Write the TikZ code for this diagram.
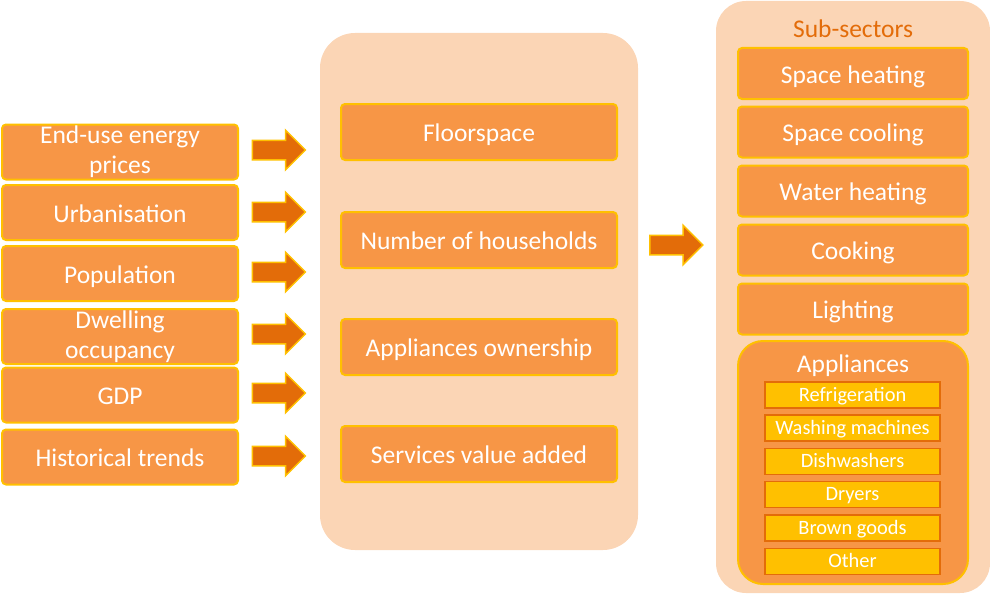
\documentclass[tikz,border=0pt]{standalone}
\usepackage{fontspec}
\setmainfont{Carlito}
\usetikzlibrary{shapes.arrows}
\definecolor{panel}{HTML}{FBD5B5}
\definecolor{boxfill}{HTML}{F79646}
\definecolor{gold}{HTML}{FFC000}
\definecolor{darkor}{HTML}{E36C09}
\begin{document}
\begin{tikzpicture}[x=1pt,y=-1pt,
  panelbox/.style={fill=panel, draw=none, inner sep=0pt},
  box/.style={draw=gold, fill=boxfill, line width=2pt, rounded corners=4pt, text=white,
    font=\fontsize{25.5}{30}\selectfont, align=center, inner sep=0pt},
  oneline/.style={text height=19.4pt, text depth=0pt},
  smallline/.style={text height=12.5pt, text depth=0.5pt},
  leftbox/.style={box, minimum width=236pt, minimum height=55pt},
  midbox/.style={box, oneline, minimum width=276pt, minimum height=56pt},
  subbox/.style={box, oneline, minimum width=230pt, minimum height=51pt},
  appbox/.style={draw=darkor, fill=gold, line width=1.5pt, text=white, smallline,
    font=\fontsize{20.4}{24}\selectfont, inner sep=0pt, minimum width=175pt, minimum height=26pt},
  blockarrow/.style={single arrow, draw=gold, fill=darkor, line width=1.5pt,
    minimum height=53pt, minimum width=38pt, single arrow head extend=10pt,
    inner sep=9pt, anchor=center}
]
\useasboundingbox (0,0) rectangle (990,594);
% panels
\node[panelbox, rounded corners=35pt, minimum width=318pt, minimum height=517pt] (mid) at (479,291.5) {};
\node[panelbox, rounded corners=30pt, minimum width=274pt, minimum height=592pt] (right) at (853,297) {};
% left boxes
\node[leftbox, yshift=-2pt] (l1) at (120,150) {End-use energy\\prices};
\node[leftbox, oneline] (l2) at (120,212.5) {Urbanisation};
\node[leftbox, oneline] (l3) at (120,273.5) {Population};
\node[leftbox, yshift=-2pt] (l4) at (120,334.5) {Dwelling\\occupancy};
\node[leftbox, oneline] (l5) at (120,395) {GDP};
\node[leftbox, oneline] (l6) at (120,457) {Historical trends};
% arrows
\node[blockarrow] (a1) at (274,150) {};
\node[blockarrow] (a2) at (274,212) {};
\node[blockarrow] (a3) at (274,272) {};
\node[blockarrow] (a4) at (274,334) {};
\node[blockarrow] (a5) at (274,393) {};
\node[blockarrow] (a6) at (274,456) {};
% middle boxes
\node[midbox] (m1) at (479,132) {Floorspace};
\node[midbox] (m2) at (479,240) {Number of households};
\node[midbox] (m3) at (479,347) {Appliances ownership};
\node[midbox] (m4) at (479,454) {Services value added};
\node[blockarrow] (a7) at (671.5,245) {};
% right
\node[text=darkor, font=\fontsize{25.5}{30}\selectfont, inner sep=0pt, oneline] (title) at (853,28) {Sub-sectors};
\node[subbox] (s1) at (853,73.5) {Space heating};
\node[subbox] (s2) at (853,132) {Space cooling};
\node[subbox] (s3) at (853,191) {Water heating};
\node[subbox] (s4) at (853,250) {Cooking};
\node[subbox] (s5) at (853,309) {Lighting};
\node[box, rounded corners=25pt, minimum width=230pt, minimum height=243pt] (app) at (853,462.5) {};
\node[text=white, font=\fontsize{25.5}{30}\selectfont, inner sep=0pt, oneline] (apptitle) at (853,363) {Appliances};
\node[appbox] (p1) at (852.5,395) {Refrigeration};
\node[appbox] (p2) at (852.5,428) {Washing machines};
\node[appbox] (p3) at (852.5,461.5) {Dishwashers};
\node[appbox] (p4) at (852.5,494.5) {Dryers};
\node[appbox] (p5) at (852.5,528) {Brown goods};
\node[appbox] (p6) at (852.5,561.5) {Other};
\end{tikzpicture}
\end{document}
